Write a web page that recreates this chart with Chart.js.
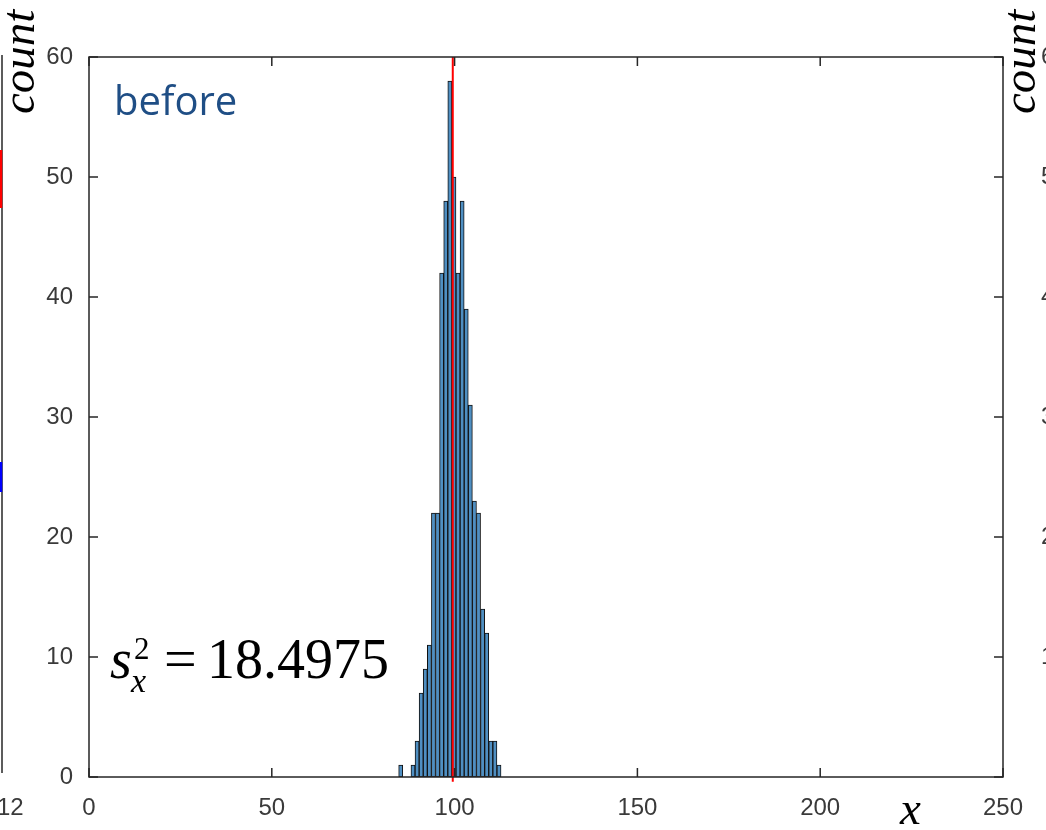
<!DOCTYPE html>
<html>
<head>
<meta charset="utf-8">
<script src="https://cdn.jsdelivr.net/npm/chart.js@4.4.1/dist/chart.umd.min.js"></script>
<style>
html, body { margin: 0; padding: 0; background: #fff; }
</style>
</head>
<body>
<canvas id="histchart" width="1046" height="830"></canvas>
<script>
//---donnees---//

// centre de chaque classe de l'histogramme (largeur ~1.12)
var bincentres = [85.26, 86.38, 87.50, 88.62, 89.74, 90.86, 91.98, 93.10, 94.22, 95.34,
                  96.46, 97.58, 98.70, 99.82, 100.94, 102.06, 103.18, 104.30, 105.42, 106.54,
                  107.66, 108.78, 109.90, 111.02, 112.14];
var bincounts = [1, 0, 0, 1, 3, 7, 9, 11, 22, 22,
                 42, 48, 58, 50, 42, 48, 39, 31, 23, 22,
                 14, 12, 3, 3, 1];
var moyenne = 99.5;
var xticks = [0, 50, 100, 150, 200, 250];
var yticks = [0, 10, 20, 30, 40, 50, 60];
var variance = '18.4975';

var tickfont = '"Liberation Sans", Arial, sans-serif';
var tickcolor = '#3a3a3a';

//---cadre-et-graduations---//

var cadre = {
  id: 'cadre',
  afterDatasetsDraw: function(chart) {
    var ctx = chart.ctx;
    var ca = chart.chartArea;
    var sx = chart.scales.x;
    var sy = chart.scales.y;
    ctx.save();
    ctx.strokeStyle = '#262626';
    ctx.lineWidth = 1.5;
    ctx.strokeRect(ca.left, ca.top, ca.right - ca.left, ca.bottom - ca.top);
    ctx.beginPath();
    xticks.forEach(function(v) {
      var p = sx.getPixelForValue(v);
      ctx.moveTo(p, ca.bottom); ctx.lineTo(p, ca.bottom - 9);
      ctx.moveTo(p, ca.top); ctx.lineTo(p, ca.top + 9);
    });
    yticks.forEach(function(v) {
      var p = sy.getPixelForValue(v);
      ctx.moveTo(ca.left, p); ctx.lineTo(ca.left + 9, p);
      ctx.moveTo(ca.right, p); ctx.lineTo(ca.right - 9, p);
    });
    ctx.stroke();
    ctx.restore();
  }
};

//---textes---//

var textes = {
  id: 'textes',
  afterDraw: function(chart) {
    var ctx = chart.ctx;
    ctx.save();

    // etiquette du panneau
    ctx.fillStyle = '#1F4E85';
    ctx.font = '40px "Open Sans", sans-serif';
    ctx.textBaseline = 'alphabetic';
    ctx.fillText('before', 114, 115);

    // variance de l'echantillon
    ctx.fillStyle = '#000';
    ctx.font = 'italic 56px "Liberation Serif", serif';
    ctx.fillText('s', 110, 678);
    ctx.font = '31px "Liberation Serif", serif';
    ctx.fillText('2', 134, 659);
    ctx.font = 'italic 34px "Liberation Serif", serif';
    ctx.fillText('x', 131, 692);
    ctx.font = '58px "Liberation Serif", serif';
    ctx.fillText('=', 164, 678);
    ctx.font = '56px "Liberation Serif", serif';
    ctx.fillText(variance, 207, 678);

    // titres des axes
    ctx.font = 'italic 47px "Liberation Serif", serif';
    ctx.fillText('x', 900, 824);
    [[34, 114], [1035, 114]].forEach(function(pos) {
      ctx.save();
      ctx.translate(pos[0], pos[1]);
      ctx.rotate(-Math.PI / 2);
      ctx.fillText('count', 0, 0);
      ctx.restore();
    });

    // bouts des panneaux voisins
    ctx.strokeStyle = '#262626';
    ctx.lineWidth = 1.5;
    ctx.beginPath();
    ctx.moveTo(2, 55); ctx.lineTo(2, 773);
    ctx.stroke();
    ctx.lineWidth = 2.5;
    ctx.strokeStyle = '#ff0000';
    ctx.beginPath(); ctx.moveTo(1, 150); ctx.lineTo(1, 208); ctx.stroke();
    ctx.strokeStyle = '#0000ff';
    ctx.beginPath(); ctx.moveTo(1, 462); ctx.lineTo(1, 492); ctx.stroke();

    ctx.fillStyle = tickcolor;
    ctx.font = '24px ' + tickfont;
    ctx.textBaseline = 'middle';
    ctx.fillText('12', -3, 808);
    var sy = chart.scales.y;
    yticks.slice(1).forEach(function(v) {
      ctx.fillText(String(v), 1041, sy.getPixelForValue(v));
    });
    ctx.restore();
  }
};

//---histogramme---//

var data = {
  datasets: [{
    type: 'line',
    label: 'moyenne',
    data: [{x: moyenne, y: -0.4}, {x: moyenne, y: 60}],
    borderColor: '#ff0000',
    borderWidth: 2,
    pointRadius: 0,
    clip: false,
    order: 0
  }, {
    type: 'bar',
    label: 'count',
    data: bincentres.map(function(c, i) { return {x: c, y: bincounts[i]}; }),
    backgroundColor: '#4F8FC2',
    borderColor: '#111111',
    borderWidth: 1,
    borderSkipped: false,
    barPercentage: 1,
    categoryPercentage: 1,
    order: 1
  }]
};

var config = {
  type: 'bar',
  data: data,
  options: {
    responsive: false,
    animation: false,
    layout: {
      padding: {left: 0, right: 43, top: 57, bottom: 0}
    },
    scales: {
      x: {
        type: 'linear',
        min: 0,
        max: 250,
        offset: false,
        grid: {display: false, drawTicks: false},
        border: {display: false},
        afterBuildTicks: function(scale) {
          scale.ticks = xticks.map(function(v) { return {value: v}; });
        },
        afterFit: function(scale) { scale.height = 53; },
        ticks: {
          font: {family: tickfont, size: 24},
          color: tickcolor,
          padding: 17,
          maxRotation: 0
        }
      },
      y: {
        min: 0,
        max: 60,
        grid: {display: false, drawTicks: false},
        border: {display: false},
        afterBuildTicks: function(scale) {
          scale.ticks = yticks.map(function(v) { return {value: v}; });
        },
        afterFit: function(scale) { scale.width = 89; },
        ticks: {
          font: {family: tickfont, size: 24},
          color: tickcolor,
          padding: 16
        }
      }
    },
    plugins: {
      legend: {display: false},
      tooltip: {enabled: false},
      title: {display: false}
    }
  },
  plugins: [cadre, textes]
};

var histctx = document.getElementById('histchart').getContext('2d');
var histchart = new Chart(histctx, config);
</script>
</body>
</html>
